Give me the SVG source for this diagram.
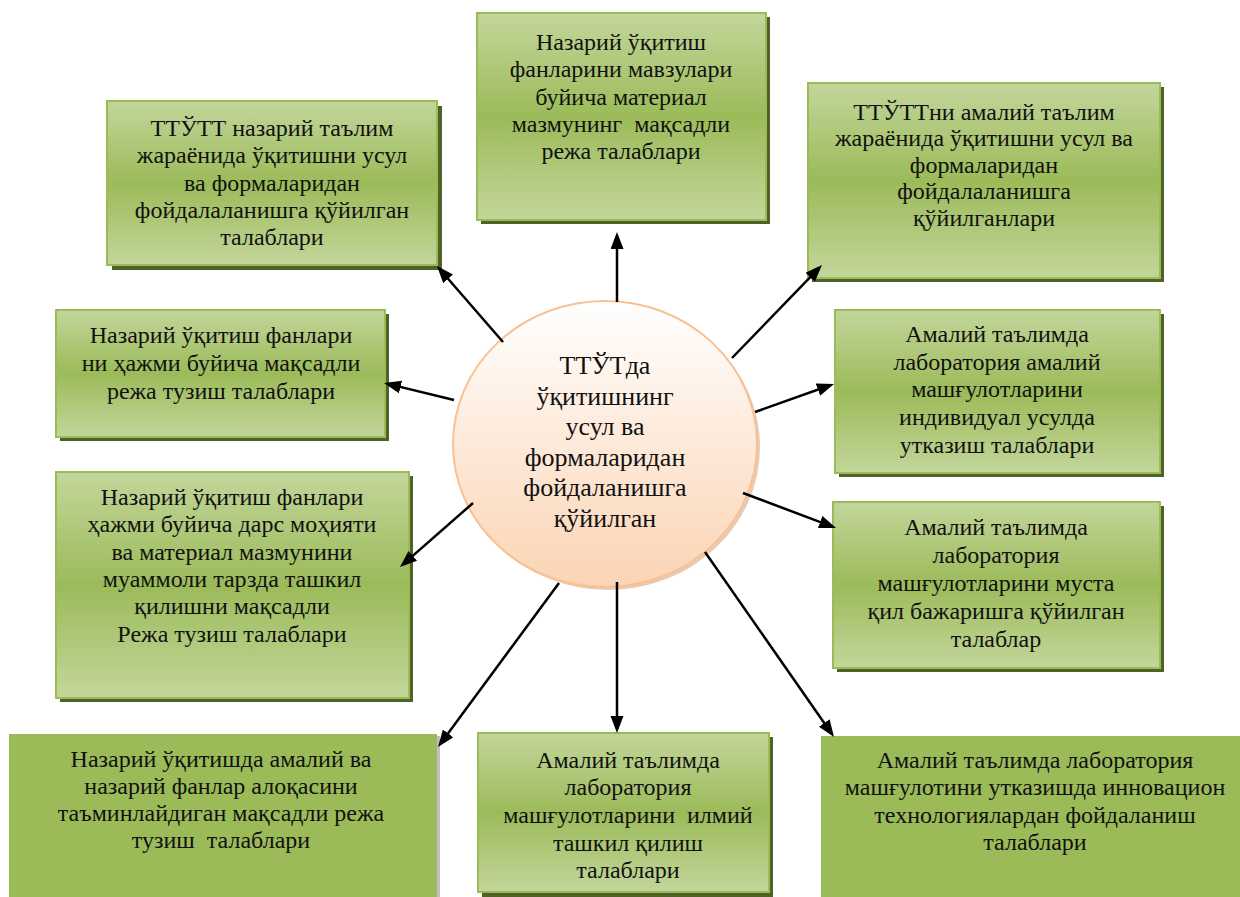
<svg xmlns="http://www.w3.org/2000/svg" width="1240" height="897" viewBox="0 0 1240 897">
<defs>
<linearGradient id="gb" x1="0" y1="0" x2="0" y2="1">
<stop offset="0" stop-color="#C3D69B"/>
<stop offset="0.5" stop-color="#9BBB59"/>
<stop offset="1" stop-color="#C3D69B"/>
</linearGradient>
<linearGradient id="gc" x1="0" y1="0" x2="0" y2="1">
<stop offset="0" stop-color="#FFFFFF"/>
<stop offset="1" stop-color="#FBD4B4"/>
</linearGradient>
<marker id="ah" markerUnits="userSpaceOnUse" markerWidth="18" markerHeight="14" refX="13" refY="6.5" orient="auto">
<path d="M0,0 L17,6.5 L0,13 z" fill="#000"/>
</marker>
</defs>
<style>
.sh{fill:#4F6228}
.bx{fill:url(#gb);stroke:#9BBB59;stroke-width:2}
.fl{fill:#9BBB59}
text{font-family:"Liberation Serif","Times New Roman","DejaVu Serif",serif;font-size:24px;fill:#111;text-anchor:middle}
.ct{font-size:26px}
.cn line{stroke:#000;stroke-width:2.5;marker-end:url(#ah)}
</style>
<rect width="1240" height="897" fill="#fff"/>

<g id="n1">
<rect class="sh" x="112" y="106" width="330" height="164"/>
<rect class="bx" x="107" y="101" width="330" height="164"/>
<text><tspan x="272" y="136">ТТЎТТ назарий таълим</tspan><tspan x="272" y="163.3">жараёнида ўқитишни усул</tspan><tspan x="272" y="190.6">ва формаларидан</tspan><tspan x="272" y="217.9">фойдалаланишга қўйилган</tspan><tspan x="272" y="245.2">талаблари</tspan></text>
</g>

<g id="n2">
<rect class="sh" x="481" y="17" width="289" height="207"/>
<rect class="bx" x="477" y="13" width="289" height="207"/>
<text><tspan x="621" y="50">Назарий ўқитиш</tspan><tspan x="621" y="77.3">фанларини мавзулари</tspan><tspan x="621" y="104.6">буйича материал</tspan><tspan x="621" y="131.9">мазмунинг&#160; мақсадли</tspan><tspan x="621" y="159.2">режа талаблари</tspan></text>
</g>

<g id="n3">
<rect class="sh" x="812" y="87" width="352" height="195"/>
<rect class="bx" x="808" y="83" width="352" height="195"/>
<text><tspan x="984" y="119.5">ТТЎТТни амалий таълим</tspan><tspan x="984" y="146.1">жараёнида ўқитишни усул ва</tspan><tspan x="984" y="172.7">формаларидан</tspan><tspan x="984" y="199.3">фойдалаланишга</tspan><tspan x="984" y="225.9">қўйилганлари</tspan></text>
</g>

<g id="n4">
<rect class="sh" x="60" y="314" width="329" height="127"/>
<rect class="bx" x="56" y="310" width="329" height="127"/>
<text><tspan x="221" y="343">Назарий ўқитиш фанлари</tspan><tspan x="221" y="371">ни ҳажми буйича мақсадли</tspan><tspan x="221" y="399">режа тузиш талаблари</tspan></text>
</g>

<g id="n5">
<rect class="sh" x="60" y="476" width="353" height="226"/>
<rect class="bx" x="56" y="472" width="353" height="226"/>
<text><tspan x="232" y="505">Назарий ўқитиш фанлари</tspan><tspan x="232" y="532.3">ҳажми буйича дарс моҳияти</tspan><tspan x="232" y="559.6">ва материал мазмунини</tspan><tspan x="232" y="586.9">муаммоли тарзда ташкил</tspan><tspan x="232" y="614.2">қилишни мақсадли</tspan><tspan x="232" y="641.5">Режа тузиш талаблари</tspan></text>
</g>

<g id="n6">
<rect class="sh" x="839" y="314" width="325" height="163"/>
<rect class="bx" x="835" y="310" width="325" height="163"/>
<text><tspan x="997" y="341.7">Амалий таълимда</tspan><tspan x="997" y="369.5">лаборатория амалий</tspan><tspan x="997" y="397.3">машғулотларини</tspan><tspan x="997" y="425.1">индивидуал усулда</tspan><tspan x="997" y="452.9">утказиш талаблари</tspan></text>
</g>

<g id="n7">
<rect class="sh" x="837" y="506" width="327" height="166"/>
<rect class="bx" x="833" y="502" width="327" height="166"/>
<text><tspan x="996" y="535">Амалий таълимда</tspan><tspan x="996" y="562.9">лаборатория</tspan><tspan x="996" y="590.8">машғулотларини муста</tspan><tspan x="996" y="618.7">қил бажаришга қўйилган</tspan><tspan x="996" y="646.6">талаблар</tspan></text>
</g>

<g id="n8">
<rect x="437" y="736" width="3" height="161" fill="#BFBFBF"/>
<rect class="fl" x="9" y="734" width="428" height="163"/>
<text><tspan x="221" y="766.7">Назарий ўқитишда амалий ва</tspan><tspan x="221" y="793.8">назарий фанлар алоқасини</tspan><tspan x="221" y="820.9">таъминлайдиган мақсадли режа</tspan><tspan x="221" y="848">тузиш&#160; талаблари</tspan></text>
</g>

<g id="n9">
<rect class="sh" x="482" y="737" width="291" height="160"/>
<rect class="bx" x="478" y="733" width="291" height="159"/>
<text><tspan x="628" y="767.7">Амалий таълимда</tspan><tspan x="628" y="795.3">лаборатория</tspan><tspan x="628" y="822.9">машғулотларини&#160; илмий</tspan><tspan x="628" y="850.5">ташкил қилиш</tspan><tspan x="628" y="878.1">талаблари</tspan></text>
</g>

<g id="n10">
<rect class="fl" x="821" y="736" width="419" height="161"/>
<text><tspan x="1035" y="768">Амалий таълимда лаборатория</tspan><tspan x="1035" y="795.3">машғулотини утказишда инновацион</tspan><tspan x="1035" y="822.6">технологиялардан фойдаланиш</tspan><tspan x="1035" y="849.9">талаблари</tspan></text>
</g>

<g id="c">
<ellipse cx="608" cy="447" rx="152" ry="143" fill="#D9A682" opacity="0.6"/>
<ellipse cx="605" cy="444" rx="152" ry="143" fill="url(#gc)" stroke="#FAC090" stroke-width="2"/>
<text class="ct"><tspan x="605" y="374">ТТЎТда</tspan><tspan x="605" y="404.5">ўқитишнинг</tspan><tspan x="605" y="435">усул ва</tspan><tspan x="605" y="465.5">формаларидан</tspan><tspan x="605" y="496">фойдаланишга</tspan><tspan x="605" y="526.5">қўйилган</tspan></text>
</g>

<g id="connectors" class="cn">
<line x1="617" y1="302" x2="617" y2="236"/>
<line x1="503" y1="342" x2="439.6" y2="269"/>
<line x1="454" y1="400" x2="387.9" y2="383.9"/>
<line x1="473" y1="503" x2="403" y2="564.4"/>
<line x1="559" y1="583" x2="440.4" y2="743.8"/>
<line x1="617" y1="582" x2="617" y2="729"/>
<line x1="705" y1="552" x2="831.7" y2="733.7"/>
<line x1="743" y1="493" x2="832.3" y2="526.6"/>
<line x1="755" y1="412" x2="830.2" y2="385.3"/>
<line x1="732" y1="358" x2="819.2" y2="267.9"/>
</g>
</svg>
